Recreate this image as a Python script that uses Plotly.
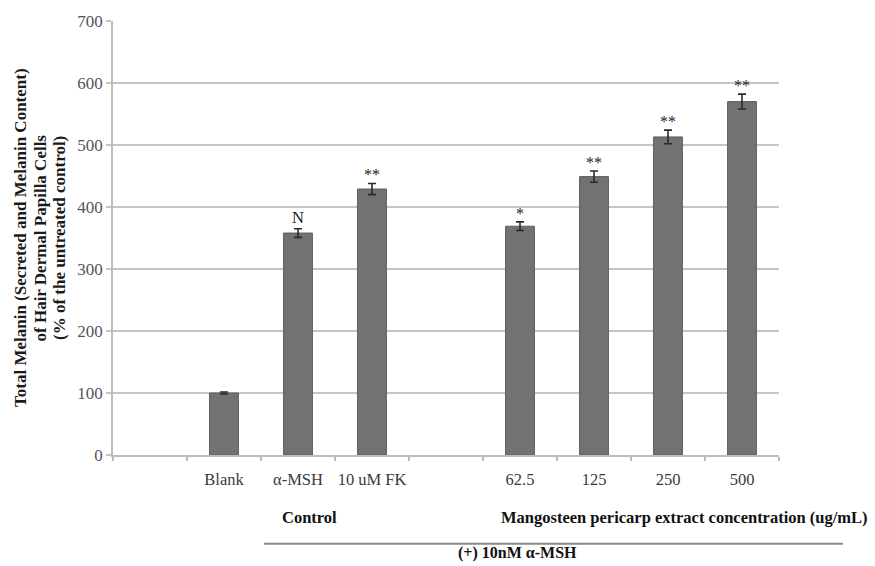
import plotly.graph_objects as go

# Category slots along the x axis ("" = empty spacer slot)
categories = ["", "Blank", "α-MSH", "10 uM FK", "", "62.5", "125", "250", "500"]
melanin = [None, 100, 358, 429, 0, 369, 449, 513, 570]
sem = [None, 1.5, 7, 9, 0, 7, 9, 11, 12]
signif = ["", "", "N", "**", "", "*", "**", "**", "**"]

yticks = [0, 100, 200, 300, 400, 500, 600, 700]

ytitle_lines = [
    "Total Melanin (Secreted and Melanin Content)",
    "of Hair Dermal Papilla Cells",
    "(% of the untreated control)",
]

L, R, T, B = 113, 96, 15, 111
W, H = 875, 566
pw, ph = W - L - R, H - T - B


def px_x(px):
    return (px - L) / pw


def px_y(py):
    return (H - B - py) / ph


idx = [i for i, c in enumerate(categories) if c]
xs = idx
ys = [melanin[i] for i in idx]
es = [sem[i] for i in idx]

serif = "Liberation Serif, Times New Roman, serif"

fig = go.Figure()
fig.add_trace(go.Bar(
    x=xs, y=ys, width=0.39,
    marker=dict(color="#727272", line=dict(color="#5e5e5e", width=1)),
    error_y=dict(type="data", array=es, visible=True, color="#2a2a2a",
                 thickness=1.6, width=4),
    hoverinfo="skip",
))

annotations = []
for i in idx:
    if signif[i]:
        annotations.append(dict(
            x=i, y=melanin[i] + sem[i], xref="x", yref="y",
            text=signif[i], showarrow=False, yanchor="bottom",
            yshift=0 if signif[i] == "N" else -2,
            font=dict(family=serif, size=16.5 if signif[i] == "N" else 16,
                      color="#222222"),
        ))

# y-axis title, one rotated line per annotation
for k, line in enumerate(ytitle_lines):
    annotations.append(dict(
        x=px_x(20 + 19.5 * k), y=px_y(235), xref="paper", yref="paper",
        text=f"<b>{line}</b>", textangle=-90, showarrow=False,
        xanchor="center", yanchor="middle",
        font=dict(family=serif, size=17, color="#1a1a1a"),
    ))

# group labels below the axis
group_font = dict(family=serif, size=16.5, color="#111111")
annotations.append(dict(
    x=px_x(309), y=px_y(518), xref="paper", yref="paper", text="<b>Control</b>",
    showarrow=False, xanchor="center", yanchor="middle", font=group_font,
))
annotations.append(dict(
    x=px_x(684), y=px_y(518), xref="paper", yref="paper",
    text="<b>Mangosteen pericarp extract concentration (ug/mL)</b>",
    showarrow=False, xanchor="center", yanchor="middle", font=group_font,
))
annotations.append(dict(
    x=px_x(517), y=px_y(554), xref="paper", yref="paper",
    text="<b>(+) 10nM α-MSH</b>",
    showarrow=False, xanchor="center", yanchor="middle",
    font=dict(family=serif, size=16, color="#111111"),
))

shapes = [dict(
    type="line", xref="paper", yref="paper",
    x0=px_x(264), x1=px_x(843), y0=px_y(545), y1=px_y(545),
    line=dict(color="#8a8a8a", width=2),
)]

fig.update_layout(
    width=W, height=H,
    margin=dict(l=L, r=R, t=T, b=B),
    paper_bgcolor="white", plot_bgcolor="white",
    showlegend=False,
    annotations=annotations, shapes=shapes,
    xaxis=dict(
        range=[-0.5, len(categories) - 0.5],
        tickmode="array", tickvals=list(range(len(categories))),
        ticktext=categories, ticks="", showgrid=False,
        showline=True, linecolor="#bdbdbd", linewidth=1.5,
        ticklabelstandoff=8,
        tickfont=dict(family=serif, size=16.5, color="#3a3a3a"),
        minor=dict(tickmode="linear", tick0=0.5, dtick=1, ticks="outside",
                   ticklen=4, tickcolor="#bdbdbd", tickwidth=1.5, showgrid=False),
        zeroline=False, fixedrange=True,
    ),
    yaxis=dict(
        range=[0, 700], tickmode="array", tickvals=yticks,
        showgrid=True, gridcolor="#c6c6c6", gridwidth=1.6,
        showline=True, linecolor="#bdbdbd", linewidth=1.5,
        ticks="outside", ticklen=5, tickcolor="#c6c6c6", tickwidth=1.5,
        tickfont=dict(family=serif, size=17, color="#555555"),
        zeroline=False, fixedrange=True,
    ),
)

fig.write_html("out.html")
